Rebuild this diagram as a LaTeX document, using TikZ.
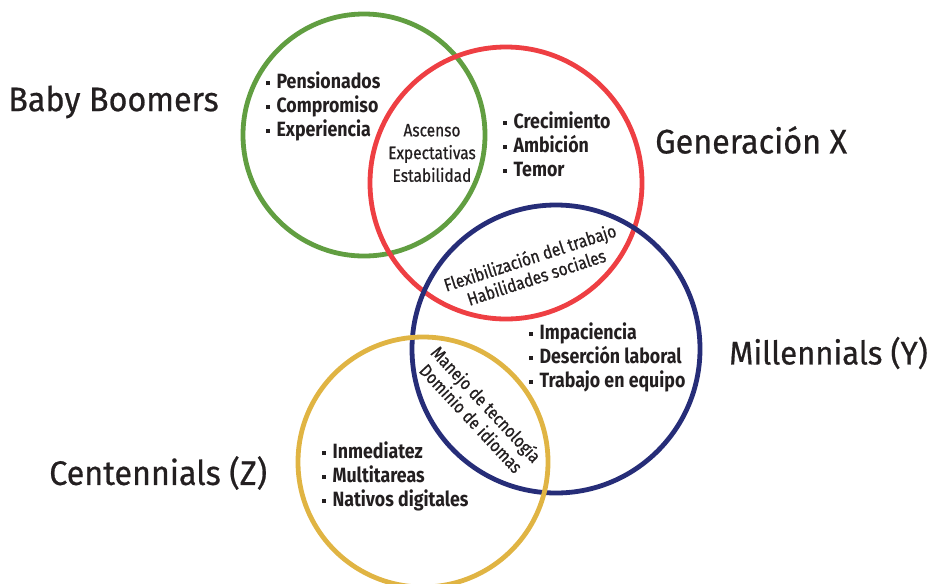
\documentclass[tikz,border=0pt]{standalone}
\usepackage{fontspec}
\setmainfont{Fira Sans}
\newfontfamily\listfont[FakeStretch=0.86]{Fira Sans}
\newfontfamily\medfont[FakeStretch=0.86, FakeBold=0.7]{Fira Sans}
\newfontfamily\titlefont[FakeStretch=0.95, FakeBold=0.6]{Fira Sans}
\definecolor{cgreen}{HTML}{619E41}
\definecolor{cred}{HTML}{EE3F43}
\definecolor{cnavy}{HTML}{262D78}
\definecolor{cyellow}{HTML}{E0B443}
\definecolor{ink}{HTML}{231F20}
\newcommand{\sqb}{\raisebox{0.28ex}{\rule{0.2em}{0.2em}}\hspace{0.3em}}
\tikzset{
  ring/.style={circle, draw, line width=3.6pt, inner sep=0pt},
  gtitle/.style={anchor=west, text=ink, font=\titlefont\fontsize{25.5}{29}\selectfont, inner sep=0pt},
  blist/.style={anchor=west, align=left, text=ink, font=\listfont\bfseries\fontsize{15.5}{18}\selectfont, inner sep=0pt},
  lens/.style={align=center, text=ink, font=\medfont\fontsize{13.5}{15.5}\selectfont, inner sep=0pt}
}
\begin{document}
\begin{tikzpicture}[x=0.75pt, y=-0.75pt]
\useasboundingbox (0,0) rectangle (932,583);
\node[ring, draw=cgreen, minimum size=181.5pt] (green) at (364,135) {};
\node[ring, draw=cred, minimum size=204pt] (red) at (506,183) {};
\node[ring, draw=cnavy, minimum size=216pt] (navy) at (556,349) {};
\node[ring, draw=cyellow, minimum size=187.5pt] (yellow) at (423,462) {};

\node[gtitle] (tbb) at (8,102) {Baby Boomers};
\node[gtitle] (tgx) at (655,140) {Generación X};
\node[gtitle, font=\titlefont\fontsize{24.5}{29}\selectfont] (tmy) at (729,353) {Millennials (Y)};
\node[gtitle] (tcz) at (49,473) {Centennials (Z)};

\node[blist] (lbb) at (266,106) {\sqb Pensionados\\ \sqb Compromiso\\ \sqb Experiencia};
\node[blist] (lgx) at (503,144) {\sqb Crecimiento\\ \sqb Ambición\\ \sqb Temor};
\node[blist] (lmy) at (529,357) {\sqb Impaciencia\\ \sqb Deserción laboral\\ \sqb Trabajo en equipo};
\node[blist] (lcz) at (322,476) {\sqb Inmediatez\\ \sqb Multitareas\\ \sqb Nativos digitales};

\node[lens, font=\medfont\fontsize{13.5}{17}\selectfont] (bbgx) at (432,153) {Ascenso\\ Expectativas\\ Estabilidad};
\node[lens, rotate=18] (gxmy) at (533,267) {Flexibilización del trabajo\\ Habilidades sociales};
\node[lens, rotate=-47] (mycz) at (479,411) {Manejo de tecnología\\ Dominio de idiomas};
\end{tikzpicture}
\end{document}
